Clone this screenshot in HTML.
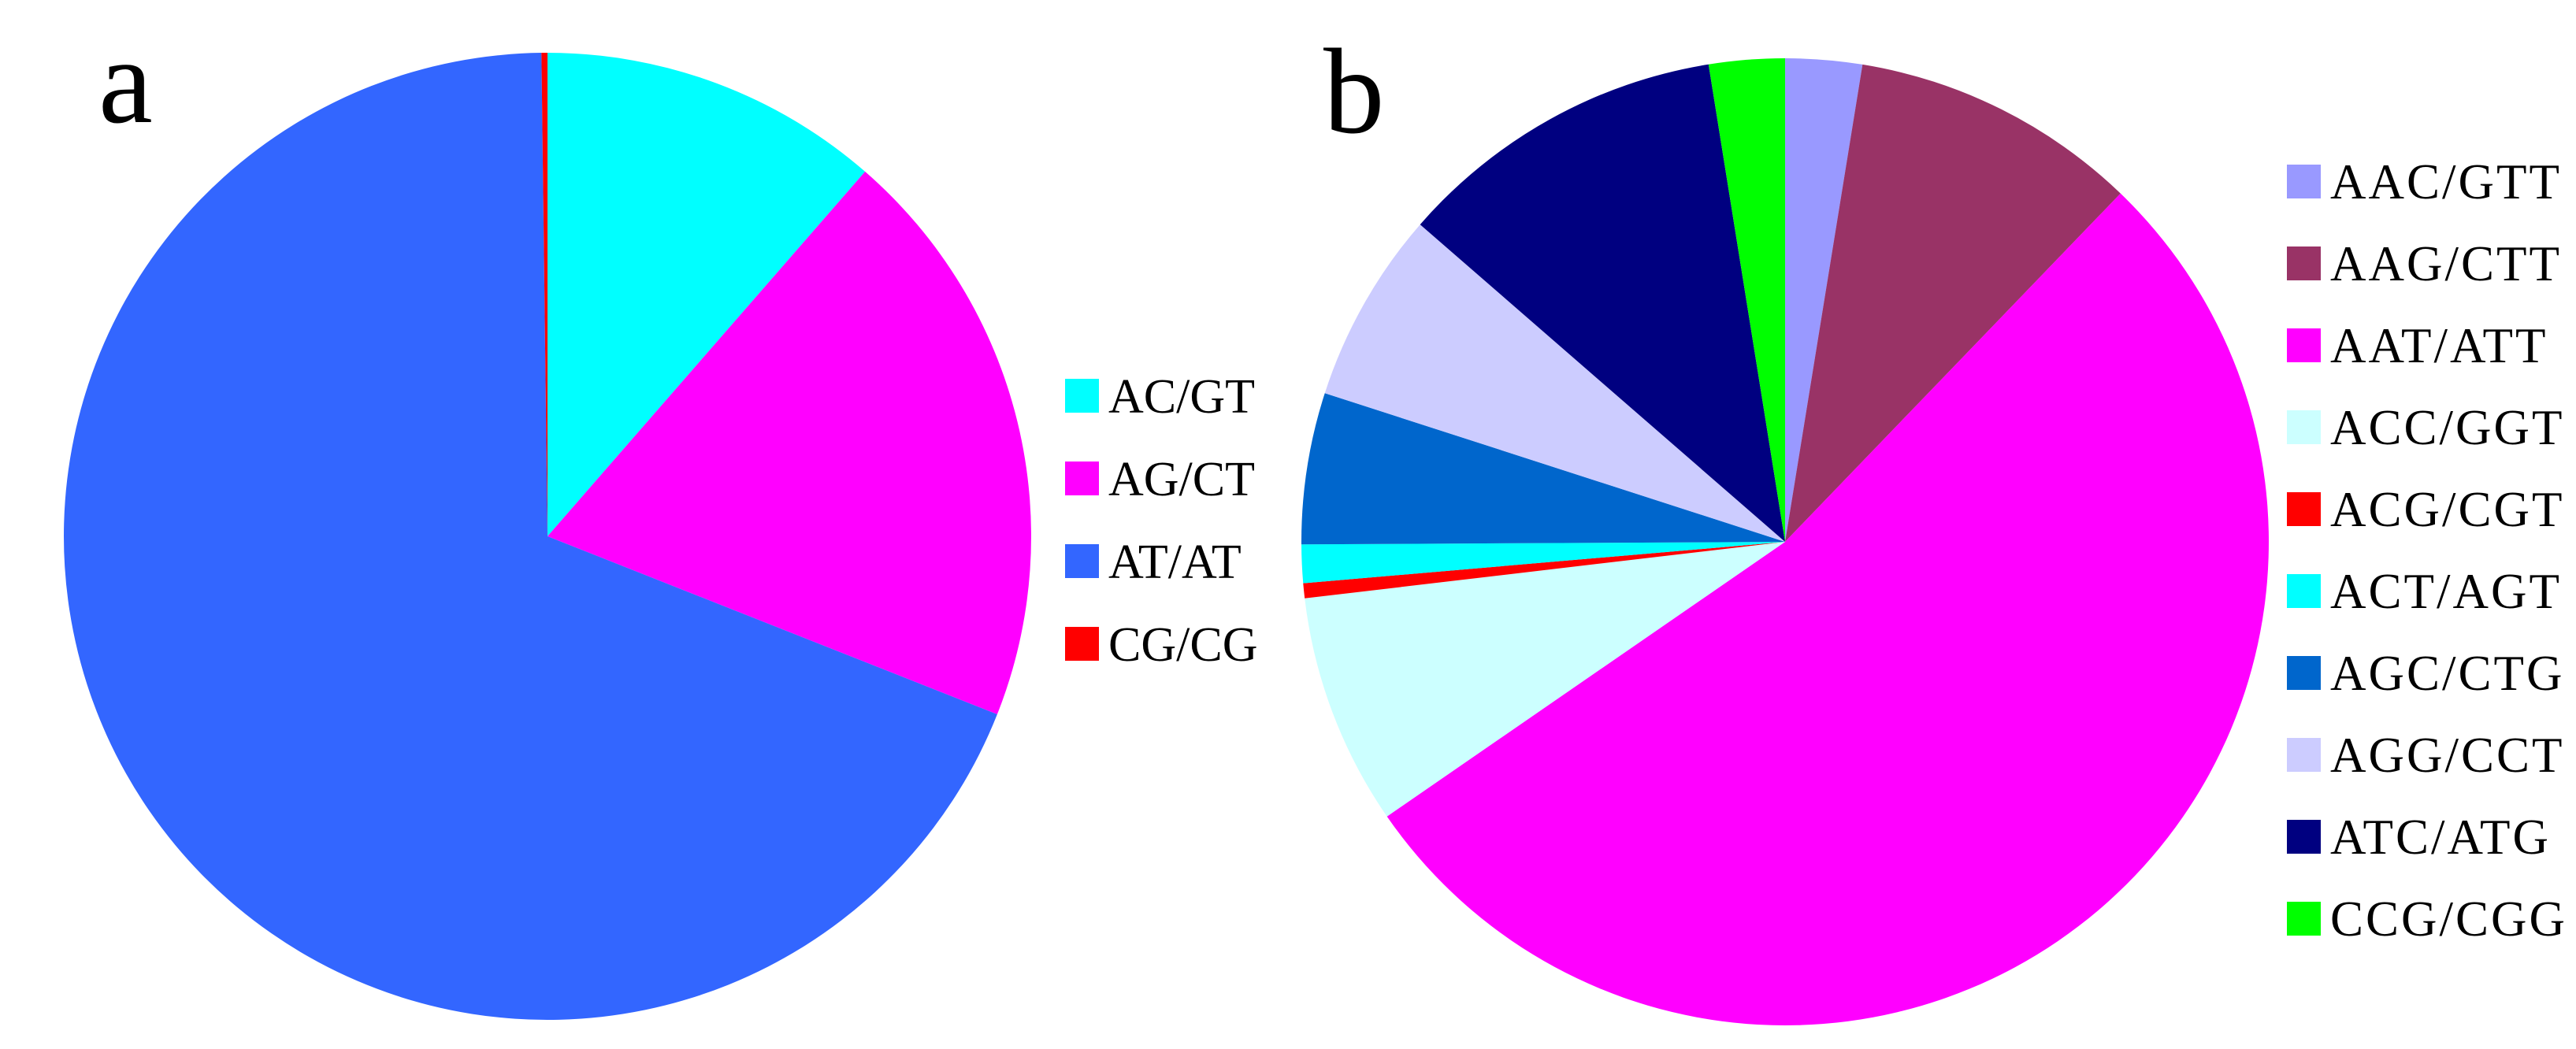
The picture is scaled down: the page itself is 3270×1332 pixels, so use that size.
<!DOCTYPE html>
<html><head><meta charset="utf-8"><style>
html,body{margin:0;padding:0;background:#fff;}
svg{display:block;}
text{font-family:"Liberation Serif",serif;}
</style></head><body>
<svg id="chart" width="3270" height="1332" viewBox="0 0 3270 1332" xmlns="http://www.w3.org/2000/svg">
<rect width="3270" height="1332" fill="#fff"/>
<text x="125" y="155" font-size="155">a</text>
<text x="1680" y="168" font-size="155">b</text>
<g id="pieA"></g>
<g id="legA"></g>
<g id="pieB"></g>
<g id="legB"></g>
</svg>
<script>
const catsA = ["AC/GT","AG/CT","AT/AT","CG/CG"];
const valsA = [11.4, 19.6, 68.8, 0.2];
const colsA = ["#00FFFF","#FF00FF","#3366FF","#FF0000"];
const catsB = ["AAC/GTT","AAG/CTT","AAT/ATT","ACC/GGT","ACG/CGT","ACT/AGT","AGC/CTG","AGG/CCT","ATC/ATG","CCG/CGG"];
const valsB = [2.56, 9.64, 53.2, 7.75, 0.5, 1.28, 5.06, 6.42, 11.08, 2.53];
const colsB = ["#9999FF","#993366","#FF00FF","#CCFFFF","#FF0000","#00FFFF","#0066CC","#CCCCFF","#000080","#00FF00"];
const NS = "http://www.w3.org/2000/svg";
function pie(g, cats, vals, cols, cx, cy, r){
  const tot = vals.reduce((a,b)=>a+b,0);
  let a0 = 0;
  vals.forEach((v,i)=>{
    const a1 = a0 + v/tot*2*Math.PI;
    const x0 = cx + r*Math.sin(a0), y0 = cy - r*Math.cos(a0);
    const x1 = cx + r*Math.sin(a1), y1 = cy - r*Math.cos(a1);
    const large = (a1-a0) > Math.PI ? 1 : 0;
    const p = document.createElementNS(NS,"path");
    p.setAttribute("d",`M${cx},${cy} L${x0},${y0} A${r},${r} 0 ${large} 1 ${x1},${y1} Z`);
    p.setAttribute("fill", cols[i]);
    
    
    g.appendChild(p);
    a0 = a1;
  });
}
function legend(g, cats, cols, x, y0, step, fs, ls){
  cats.forEach((c,i)=>{
    const y = y0 + i*step;
    const r = document.createElementNS(NS,"rect");
    r.setAttribute("x", x); r.setAttribute("y", y-21);
    r.setAttribute("width", 43); r.setAttribute("height", 43);
    r.setAttribute("fill", cols[i]);
    
    
    g.appendChild(r);
    const t = document.createElementNS(NS,"text");
    t.setAttribute("x", x+55); t.setAttribute("y", y+22);
    t.setAttribute("font-size", fs);
    t.setAttribute("letter-spacing", ls);
    t.textContent = c;
    
    
    g.appendChild(t);
  });
}
pie(document.getElementById("pieA"), catsA, valsA, colsA, 695, 681, 614);
pie(document.getElementById("pieB"), catsB, valsB, colsB, 2266, 688, 614);
legend(document.getElementById("legA"), catsA, colsA, 1352, 502, 105, 62, 0);
legend(document.getElementById("legB"), catsB, colsB, 2903, 230, 104, 63, 3);
</script>
</body></html>
